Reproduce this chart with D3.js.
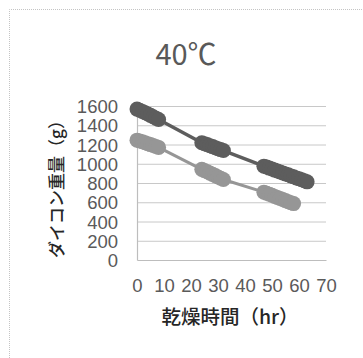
<!DOCTYPE html>
<html>
<head>
<meta charset="utf-8">
<script src="https://cdn.jsdelivr.net/npm/d3@7"></script>
<style>
  html, body { margin: 0; padding: 0; background: #fff; }
  svg { display: block; }
</style>
</head>
<body>
<svg id="chart" width="363" height="358"></svg>
<script>
// Drying time (hr) and radish weight (g) for two radishes dried at 40°C
const hoursA = [0,1,2,3,4,5,6,7,8, 24,25,26,27,28,29,30,31,32,
                47,48,49,50,51,52,53,54,55,56,57,58,59,60,61,62,63];
const weightA = [1568,1556,1544,1530,1517,1503,1489,1474,1460,
                 1218,1208,1199,1188,1178,1167,1157,1147,1137,
                 975,966,955,946,934,925,914,905,894,886,874,865,853,845,834,824,812];
const hoursB = [0,1,2,3,4,5,6,7,8, 24,25,26,27,28,29,30,31,32,
                47,48,49,50,51,52,53,54,55,56,57,58];
const weightB = [1245,1236,1228,1218,1209,1199,1190,1180,1170,
                 942,929,917,903,890,877,863,850,836,
                 705,694,684,672,661,650,640,628,617,606,596,586];
const yTicks = [0,200,400,600,800,1000,1200,1400,1600];
const xTicks = [0,10,20,30,40,50,60,70];
const title = "40℃";
const xTitle = "乾燥時間（hr）";
const yTitle = "ダイコン重量（g）";

const svg = d3.select("#chart");
const plot = { left: 137, right: 326, top: 106, bottom: 260 };

const x = d3.scaleLinear().domain([0, 70]).range([plot.left, plot.right]);
const y = d3.scaleLinear().domain([0, 1600]).range([plot.bottom, plot.top]);

// outer chart frame
svg.append("path")
  .attr("d", "M9.5,358 V9.5 H363")
  .attr("fill", "none").attr("stroke", "#c4c4c4").attr("stroke-width", 1)
  .attr("stroke-dasharray", "1,1");

// horizontal gridlines
svg.append("g").selectAll("line").data(yTicks.filter(d => d > 0)).join("line")
  .attr("x1", plot.left).attr("x2", plot.right)
  .attr("y1", d => y(d) + 0.5).attr("y2", d => y(d) + 0.5)
  .attr("stroke", "#c8c8c8").attr("stroke-width", 1);

// axes
const fmt = d3.format("d");
const yAxis = svg.append("g").attr("transform", `translate(${plot.left},0)`)
  .call(d3.axisLeft(y).tickValues(yTicks).tickFormat(fmt).tickSize(0).tickPadding(19));
const xAxis = svg.append("g").attr("transform", `translate(0,${plot.bottom})`)
  .call(d3.axisBottom(x).tickValues(xTicks).tickFormat(fmt).tickSize(0).tickPadding(19));
[yAxis, xAxis].forEach(g => {
  g.select(".domain").attr("stroke", "#bdbdbd").attr("stroke-width", 1.2);
  g.selectAll("text")
    .attr("font-family", "'Liberation Sans', Arial, sans-serif")
    .attr("font-size", 18.5).attr("fill", "#5a5a5a");
});
yAxis.selectAll("text").attr("dy", "0.36em");

// series
const series = [
  { h: hoursA, w: weightA, color: "#5d5d5d", lw: 3.5 },
  { h: hoursB, w: weightB, color: "#969696", lw: 3 }
];
const line = d3.line().x(d => x(d[0])).y(d => y(d[1]));
series.forEach(s => {
  const pts = s.h.map((h, i) => [h, s.w[i]]);
  const g = svg.append("g");
  g.append("path").datum(pts).attr("d", line)
    .attr("fill", "none").attr("stroke", s.color).attr("stroke-width", s.lw)
    .attr("stroke-linejoin", "round");
  g.selectAll("circle").data(pts).join("circle")
    .attr("cx", d => x(d[0])).attr("cy", d => y(d[1])).attr("r", 7.5)
    .attr("fill", s.color);
});

// titles
svg.append("text").attr("x", 186).attr("y", 65).attr("text-anchor", "middle")
  .attr("font-family", "'Noto Sans CJK JP', sans-serif")
  .attr("font-size", 29).attr("fill", "#595959").text(title);

svg.append("text").attr("x", 230).attr("y", 324).attr("text-anchor", "middle")
  .attr("font-family", "'Noto Sans CJK JP', sans-serif")
  .attr("font-size", 19.5).attr("font-weight", 500).attr("fill", "#262626").text(xTitle);

svg.append("text")
  .attr("transform", "translate(63,185) rotate(-90)")
  .attr("text-anchor", "middle")
  .attr("font-family", "'Noto Sans CJK JP', sans-serif")
  .attr("font-size", 17).attr("font-weight", 500).attr("fill", "#262626").text(yTitle);
</script>
</body>
</html>
